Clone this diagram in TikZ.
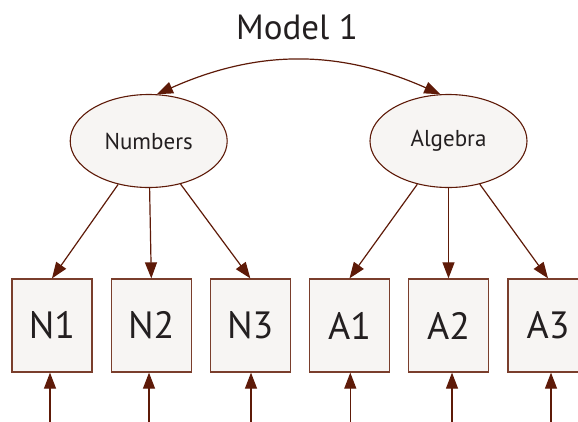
\documentclass[tikz,border=0pt]{standalone}
\usepackage{fontspec}
\setmainfont{PT Sans}
\usetikzlibrary{shapes.geometric,arrows.meta}
\definecolor{edgebrown}{HTML}{5E1A08}
\definecolor{boxbrown}{HTML}{7A3E2C}
\definecolor{nodefill}{HTML}{F7F5F3}
\definecolor{txt}{HTML}{231F20}
\begin{document}
\begin{tikzpicture}[x=1pt,y=-1pt,
  latent/.style={ellipse,draw=edgebrown,fill=nodefill,line width=1.1pt,inner sep=0pt,
    minimum width=157pt,minimum height=93pt,text=txt,font=\fontsize{23}{26}\selectfont},
  obs/.style={rectangle,draw=boxbrown,fill=nodefill,line width=1.3pt,inner sep=0pt,
    minimum width=80pt,minimum height=93pt,text=txt,font=\fontsize{38}{42}\selectfont},
  arr/.style={draw=edgebrown,line width=1.2pt,-{Triangle[length=16pt,width=12pt]}},
  darr/.style={draw=edgebrown,line width=1.2pt,{Triangle[length=16pt,width=12pt]}-{Triangle[length=16pt,width=12pt]}}]
\useasboundingbox (0,0) rectangle (578,421);
\node[text=txt,font=\fontsize{35}{40}\selectfont] (title) at (297,27) {Model 1};
\node[latent] (num) at (148.7,141) {Numbers};
\node[latent] (alg) at (448.5,141) {Algebra};
\node[obs] (N1) at (52,325.5) {N1};
\node[obs] (N2) at (151.3,325.5) {N2};
\node[obs] (N3) at (250.3,325.5) {N3};
\node[obs] (A1) at (349.5,325.5) {A1};
\node[obs] (A2) at (448.5,325.5) {A2};
\node[obs] (A3) at (548,325.5) {A3};
\draw[darr] (num.80) to[out=24,in=156] (alg.100);
\foreach \n in {N1,N2,N3} \draw[arr] (num) -- (\n.north);
\foreach \n in {A1,A2,A3} \draw[arr] (alg) -- (\n.north);
\coordinate (eN1) at (50,425);
\coordinate (eN2) at (149,425);
\coordinate (eN3) at (251,425);
\coordinate (eA1) at (350.3,425);
\coordinate (eA2) at (452,425);
\coordinate (eA3) at (551,425);
\foreach \n in {N1,N2,N3,A1,A2,A3} \draw[arr] (e\n) -- (e\n |- \n.south);
\end{tikzpicture}
\end{document}
